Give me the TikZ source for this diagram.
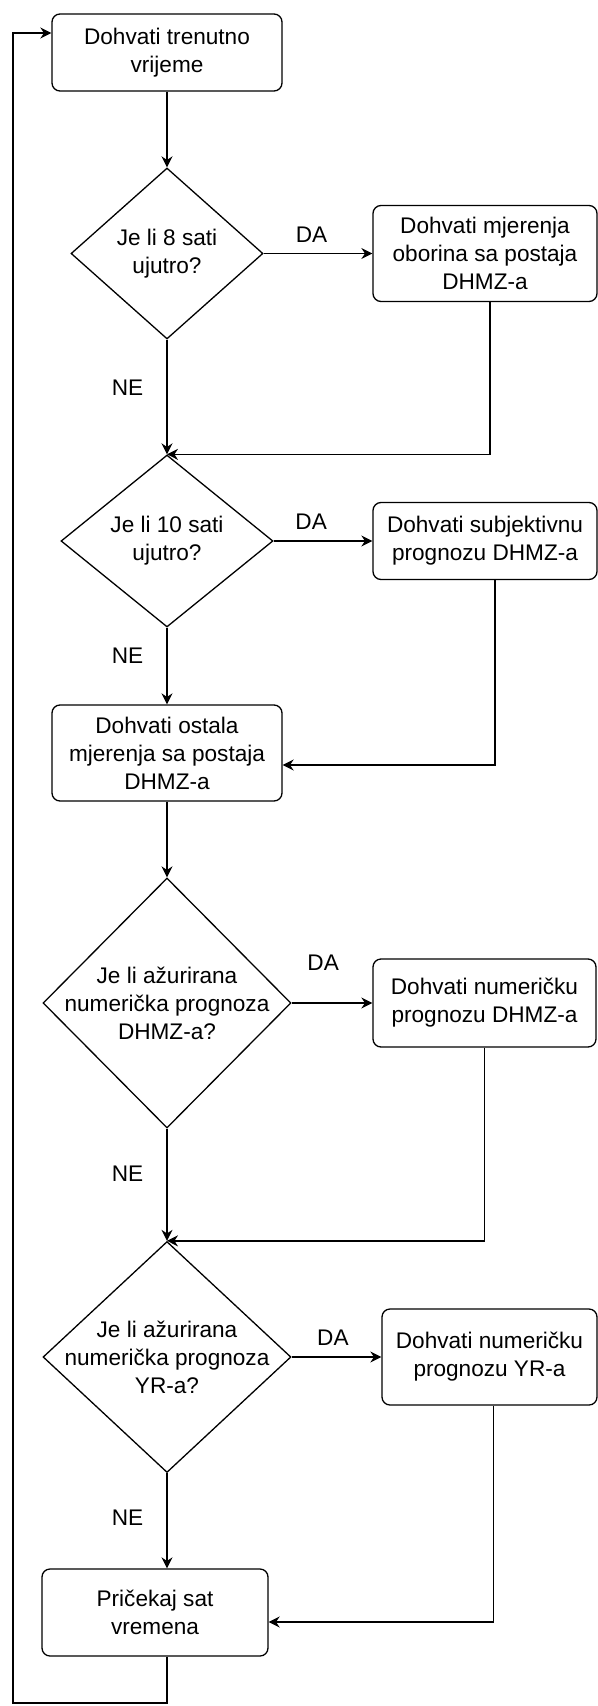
\documentclass[tikz,border=0pt]{standalone}
\usepackage{fontspec}
\setmainfont{Liberation Sans}
\usetikzlibrary{shapes.geometric, arrows.meta}

\begin{document}
\begin{tikzpicture}[x=0.5pt, y=-0.5pt, font=\fontsize{11.3}{14}\selectfont,
    stepbox/.style={draw, rounded corners=4pt, line width=0.65pt, align=center, inner sep=0pt},
    decision/.style={draw, diamond, aspect=1.1, inner xsep=-10pt, inner ysep=-4pt, line width=0.65pt, align=center},
    arr/.style={-{Stealth[length=5.5pt, width=5.5pt]}, line width=0.7pt},
    lbl/.style={inner sep=0pt}]
    % page has the size of the original drawing
    \useasboundingbox (0,0) rectangle (598,1706);

    % main column on the left, fetch steps on the right
    \node[stepbox, minimum width=115pt, minimum height=38.5pt] (now) at (167,52.5) {Dohvati trenutno\\vrijeme};
    \node[decision, minimum width=96pt, minimum height=85.5pt] (at8) at (167,253.5) {Je li 8 sati\\ujutro?};
    \node[stepbox, minimum width=112pt, minimum height=48pt] (rain) at (485,253.5) {Dohvati mjerenja\\oborina sa postaja\\DHMZ-a};
    \node[decision, minimum width=106pt, minimum height=86pt] (at10) at (167,541) {Je li 10 sati\\ujutro?};
    \node[stepbox, minimum width=112pt, minimum height=38.5pt] (subj) at (485,541) {Dohvati subjektivnu\\prognozu DHMZ-a};
    \node[stepbox, minimum width=115pt, minimum height=48pt] (other) at (167,753) {Dohvati ostala\\mjerenja sa postaja\\DHMZ-a};
    \node[decision, minimum width=124pt, minimum height=125pt] (newdhmz) at (167,1003) {Je li ažurirana\\numerička prognoza\\DHMZ-a?};
    \node[stepbox, minimum width=111.5pt, minimum height=44pt] (numdhmz) at (484.5,1003) {Dohvati numeričku\\prognozu DHMZ-a};
    \node[decision, minimum width=124pt, minimum height=115.5pt] (newyr) at (167,1357) {Je li ažurirana\\numerička prognoza\\YR-a?};
    \node[stepbox, minimum width=107.5pt, minimum height=48pt] (numyr) at (489.5,1357) {Dohvati numeričku\\prognozu YR-a};
    \node[stepbox, minimum width=113pt, minimum height=43.5pt] (wait) at (155,1612.5) {Pričekaj sat\\vremena};
    \coordinate (corner) at (13,1703);

    \draw[arr] (now) -- (at8);
    \draw[arr] (at8) -- node[lbl, above=5pt, pos=0.44] {DA} (rain);
    \draw[arr] (at8) -- node[lbl, left=11.5pt, pos=0.42] {NE} (at10);
    \draw[arr] ([xshift=2.5pt]rain.south) |- (at10.north);
    \draw[arr] (at10) -- node[lbl, above=5.5pt, pos=0.38] {DA} (subj);
    \draw[arr] (at10) -- node[lbl, left=11.5pt, pos=0.37] {NE} (other);
    \draw[arr] ([xshift=5pt]subj.south) |- ([yshift=-6pt]other.east);
    \draw[arr] (other) -- (newdhmz);
    \draw[arr] (newdhmz) -- node[lbl, above=16pt, pos=0.39] {DA} (numdhmz);
    \draw[arr] (newdhmz) -- node[lbl, left=11.5pt, pos=0.4] {NE} (newyr);
    \draw[arr] (numdhmz) |- (newyr.north);
    \draw[arr] (newyr) -- node[lbl, above=5.5pt, pos=0.46] {DA} (numyr);
    \draw[arr] (newyr.south) -- node[lbl, left=11.5pt, pos=0.47] {NE} (newyr.south |- wait.north);
    \draw[arr] ([xshift=2pt]numyr.south) |- ([yshift=-4.75pt]wait.east);
    % loop back to the top
    \draw[arr] (newyr.south |- wait.south) |- (corner) |- ([yshift=9.75pt]now.west);
\end{tikzpicture}
\end{document}
